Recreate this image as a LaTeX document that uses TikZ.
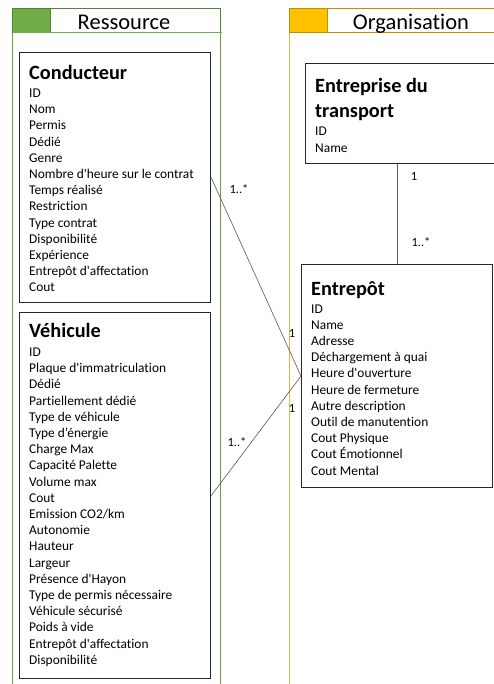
\documentclass[tikz,border=0pt]{standalone}
\usepackage{fontspec}
\setmainfont{Carlito}[Ligatures={TeXOff,CommonOff}]
\definecolor{resfill}{HTML}{70AD47}
\definecolor{resline}{HTML}{548235}
\definecolor{reslane}{HTML}{6A9E45}
\definecolor{orgfill}{HTML}{FFC000}
\definecolor{orgline}{HTML}{BF9000}
\definecolor{orglane}{HTML}{E8B450}
\begin{document}
\begin{tikzpicture}[x=1pt,y=-1pt,
  classbox/.style={draw=black!85, line width=1.2pt, fill=white, inner sep=0pt, anchor=north west},
  classtitle/.style={font=\fontsize{20.3}{24}\selectfont\bfseries, inner sep=0pt, anchor=base west},
  attr/.style={font=\fontsize{13.4}{16}\selectfont, inner sep=0pt, anchor=base west},
  lanehead/.style={font=\fontsize{22.5}{26}\selectfont, inner sep=0pt, anchor=base},
  mult/.style={font=\fontsize{12.5}{15}\selectfont, inner sep=0pt},
  conn/.style={draw=black!65, line width=0.6pt}]
\useasboundingbox (0,0) rectangle (494,684);
% lanes
\draw[reslane, line width=1pt] (12.7,33) -- (12.7,690);
\draw[reslane, line width=1pt] (220,33) -- (220,690);
\draw[resline, line width=0.8pt] (12.7,8.3) rectangle (220,32.8);
\fill[resfill] (12.7,8.3) rectangle (50,32.8);
\draw[resline, line width=0.8pt] (12.7,8.3) rectangle (50,32.8);
\draw[resfill, line width=0.8pt] (12.7,32.8) -- (222,32.8);
\node[lanehead] (hres) at (124,29.3) {Ressource};
\draw[orglane, line width=1pt] (289.3,33) -- (289.3,690);
\draw[orgline, line width=0.8pt] (289.3,8.3) rectangle (500,32.8);
\fill[orgfill] (289.3,8.3) rectangle (327.3,32.8);
\draw[orgline, line width=0.8pt] (289.3,8.3) rectangle (327.3,32.8);
\node[lanehead] (horg) at (411,29.3) {Organisation};
% boxes
\node[classbox, minimum width=191pt, minimum height=250pt] (conducteur) at (19,52) {};
\node[classbox, minimum width=191pt, minimum height=366pt] (vehicule) at (19,312) {};
\node[classbox, minimum width=191pt, minimum height=223pt] (entrepot) at (301,264) {};
\node[classbox, minimum width=191pt, minimum height=100pt] (entreprise) at (305,63) {};
% Conducteur
\node[classtitle] (tcond) at (29,79.5) {Conducteur};
\foreach \t [count=\i] in {ID,Nom,Permis,Dédié,Genre,Nombre d'heure sur le contrat,Temps réalisé,Restriction,Type contrat,Disponibilité,Expérience,Entrepôt d'affectation,Cout}
  \node[attr] (cond-\i) at (29,{97.5+16.2*(\i-1)}) {\t};
% Vehicule
\node[classtitle] (tveh) at (29,337) {Véhicule};
\foreach \t [count=\i] in {ID,Plaque d'immatriculation,Dédié,Partiellement dédié,Type de véhicule,Type d’énergie,Charge Max,Capacité Palette,Volume max,Cout,Emission CO2/km,Autonomie,Hauteur,Largeur,Présence d'Hayon,Type de permis nécessaire,Véhicule sécurisé,Poids à vide,Entrepôt d'affectation,Disponibilité}
  \node[attr] (veh-\i) at (29,{356.5+16.2*(\i-1)}) {\t};
% Entrepot
\node[classtitle] (tent) at (311,295) {Entrepôt};
\foreach \t [count=\i] in {ID,Name,Adresse,Déchargement à quai,Heure d'ouverture,Heure de fermeture,Autre description,Outil de manutention,Cout Physique,Cout Émotionnel,Cout Mental}
  \node[attr] (ent-\i) at (311,{313+16.2*(\i-1)}) {\t};
% Entreprise
\node[classtitle] (tepr1) at (315,92.5) {Entreprise du};
\node[classtitle] (tepr2) at (315,117.5) {transport};
\node[attr] (epr-1) at (315,135.5) {ID};
\node[attr] (epr-2) at (315,152.5) {Name};
% connectors
\draw[conn] (conducteur.east) -- (entrepot.west);
\draw[conn] (vehicule.east) -- (entrepot.west);
\draw[conn] (entrepot.north |- entreprise.south) -- (entrepot.north);
% multiplicities
\node[mult] (m1) at (239,189) {1..*};
\node[mult] (m2) at (237,442) {1..*};
\node[mult] (m3) at (292,333) {1};
\node[mult] (m4) at (292,408) {1};
\node[mult] (m5) at (414,176) {1};
\node[mult] (m6) at (421,242) {1..*};
\end{tikzpicture}
\end{document}
